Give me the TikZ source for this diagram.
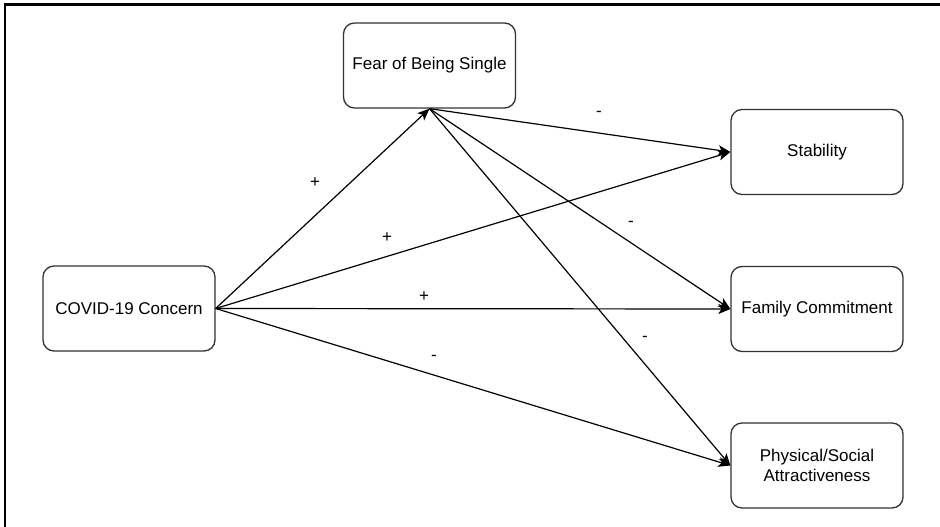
\documentclass[tikz,border=0pt]{standalone}
\usepackage{fontspec}
\setmainfont{Liberation Sans}
\usetikzlibrary{arrows.meta}

\begin{document}
\begin{tikzpicture}[x=1pt, y=-1pt,
        box/.style={draw=black!80, line width=1.3pt, rounded corners=11pt, minimum width=172pt, minimum height=85pt, align=center, font=\fontsize{17}{20}\selectfont},
        link/.style={-{Stealth[length=12pt, width=10pt, inset=3pt]}, line width=1.2pt},
        sign/.style={font=\fontsize{17}{20}\selectfont, inner sep=0pt}]
        \useasboundingbox (0, 0) rectangle (940, 527);
        \draw[line width=2.5pt] (5, 527) -- (5, 4.5) -- (940, 4.5);

        \node[box] (fear) at (429.5, 65.5) {Fear of Being Single};
        \node[box] (covid) at (129, 308.5) {COVID-19 Concern};
        \node[box] (stab) at (817, 152) {Stability};
        \node[box] (fam) at (817, 309) {Family Commitment};
        \node[box] (phys) at (817, 465.5) {Physical/Social\\Attractiveness};

        \draw[link] (covid.east) -- (fear.south);
        \draw[link] (covid.east) -- (stab.west);
        \draw[link] (covid.east) -- (fam.west);
        \draw[link] (covid.east) -- (phys.west);
        \draw[link] (fear.south) -- (stab.west);
        \draw[link] (fear.south) -- (fam.west);
        \draw[link] (fear.south) -- (phys.west);

        \node[sign] (covidfear) at (315, 183) {+};
        \node[sign] (covidstab) at (387, 238) {+};
        \node[sign] (covidfam) at (424, 297) {+};
        \node[sign] (covidphys) at (434, 358) {-};
        \node[sign] (fearstab) at (599, 114) {-};
        \node[sign] (fearfam) at (631, 224) {-};
        \node[sign] (fearphys) at (645, 339) {-};
    \end{tikzpicture}
\end{document}
